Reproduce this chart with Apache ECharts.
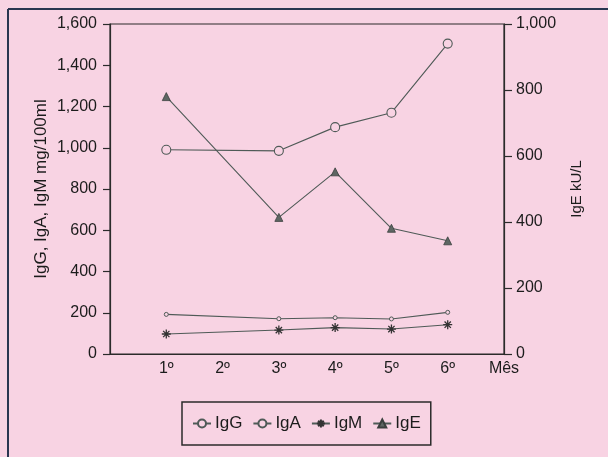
<!DOCTYPE html>
<html>
<head>
<meta charset="utf-8">
<script src="https://cdn.jsdelivr.net/npm/echarts@6/dist/echarts.min.js"></script>
<style>
html,body{margin:0;padding:0;background:#f8d3e3;}
#c{width:608px;height:457px;}
</style>
</head>
<body>
<div id="c"></div>
<script>
const months = ['', '1º', '2º', '3º', '4º', '5º', '6º', 'Mês'];
const igG = [null, 990, null, 985, 1100, 1170, 1505, null];
const igA = [null, 192, null, 171, 176, 170, 202, null];
const igM = [null, 97, null, 116, 128, 121, 142, null];
const igE = [null, 780, null, 414, 552, 381, 343, null];
const leftTicks = { min: 0, max: 1600, interval: 200 };
const rightTicks = { min: 0, max: 1000, interval: 200 };

const lineColor = '#4f5a57';
const axisColor = '#2b2b2b';
const textColor = '#1c1c1c';
const font = 'Liberation Sans, Arial, sans-serif';
const asterisk = 'path://M0,5L10,5M5,0L5,10M1.5,1.5L8.5,8.5M8.5,1.5L1.5,8.5';

const chart = echarts.init(document.getElementById('c'), null, { renderer: 'canvas' });
chart.setOption({
  backgroundColor: '#f8d3e3',
  animation: false,
  textStyle: { fontFamily: font, color: textColor },
  graphic: [
    { type: 'line', shape: { x1: 8, y1: 9, x2: 8, y2: 457 }, style: { stroke: '#2a3550', lineWidth: 2 } },
    { type: 'line', shape: { x1: 8, y1: 9, x2: 608, y2: 9 }, style: { stroke: '#2a3550', lineWidth: 2 } }
  ],
  grid: { left: 110, right: 104, top: 24, bottom: 103, show: true, borderColor: axisColor, borderWidth: 1.2, backgroundColor: 'transparent' },
  legend: {
    left: 182, top: 402,
    padding: [13, 10, 13, 10],
    itemWidth: 18, itemHeight: 10, itemGap: 10,
    borderColor: axisColor, borderWidth: 1.5,
    textStyle: { fontSize: 17, fontFamily: font, color: textColor, padding: [0, 0, 0, -1] },
    data: ['IgG', 'IgA', 'IgM', 'IgE']
  },
  xAxis: {
    type: 'category',
    data: months,
    boundaryGap: false,
    axisLine: { lineStyle: { color: axisColor, width: 1.2 } },
    axisTick: { show: false },
    axisLabel: { fontSize: 16, color: textColor, margin: 7, interval: 0 },
    splitLine: { show: false }
  },
  yAxis: [
    {
      type: 'value', position: 'left',
      min: leftTicks.min, max: leftTicks.max, interval: leftTicks.interval,
      name: 'IgG, IgA, IgM mg/100ml', nameLocation: 'middle', nameGap: 60,
      nameMoveOverlap: false,
      nameTextStyle: { fontSize: 17, color: textColor },
      axisLine: { show: true, lineStyle: { color: axisColor, width: 1.2 } },
      axisTick: { show: true, length: 7, lineStyle: { color: axisColor, width: 1.2 } },
      axisLabel: { fontSize: 16, color: textColor, margin: 13 },
      splitLine: { show: false }
    },
    {
      type: 'value', position: 'right',
      min: rightTicks.min, max: rightTicks.max, interval: rightTicks.interval,
      name: 'IgE kU/L', nameLocation: 'middle', nameGap: 65,
      nameMoveOverlap: false,
      nameTextStyle: { fontSize: 15, color: textColor },
      axisLine: { show: true, lineStyle: { color: axisColor, width: 1.2 } },
      axisTick: { show: true, length: 8, lineStyle: { color: axisColor, width: 1.2 } },
      axisLabel: { fontSize: 16, color: textColor, margin: 12 },
      splitLine: { show: false }
    }
  ],
  series: [
    {
      name: 'IgG', type: 'line', data: igG, connectNulls: true, yAxisIndex: 0,
      symbol: 'circle', symbolSize: 9,
      lineStyle: { color: lineColor, width: 1.1 },
      itemStyle: { color: '#f8d3e3', borderColor: lineColor, borderWidth: 1.1 }
    },
    {
      name: 'IgA', type: 'line', data: igA, connectNulls: true, yAxisIndex: 0,
      symbol: 'circle', symbolSize: 4,
      lineStyle: { color: lineColor, width: 1.1 },
      itemStyle: { color: '#f8d3e3', borderColor: lineColor, borderWidth: 1 }
    },
    {
      name: 'IgM', type: 'line', data: igM, connectNulls: true, yAxisIndex: 0,
      symbol: asterisk, symbolSize: 9,
      lineStyle: { color: lineColor, width: 1.1 },
      itemStyle: { color: lineColor, borderColor: '#333', borderWidth: 1.3 }
    },
    {
      name: 'IgE', type: 'line', data: igE, connectNulls: true, yAxisIndex: 1,
      symbol: 'triangle', symbolSize: 8,
      lineStyle: { color: lineColor, width: 1.1 },
      itemStyle: { color: '#5e6663', borderColor: '#3a403e', borderWidth: 0.8 }
    }
  ]
});
</script>
</body>
</html>
